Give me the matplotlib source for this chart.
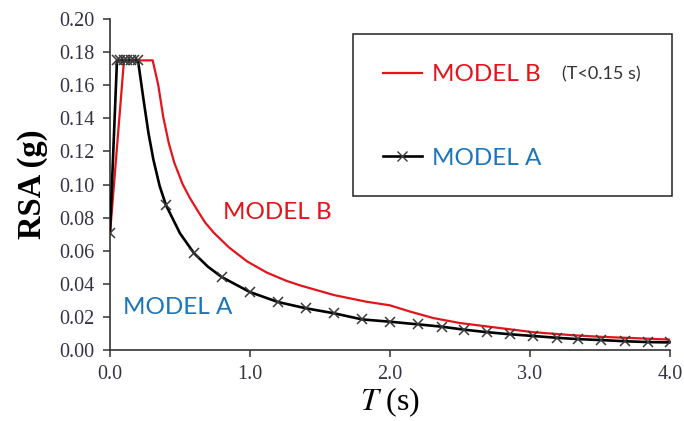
import matplotlib
matplotlib.use("Agg")
import matplotlib.pyplot as plt
from matplotlib.lines import Line2D
from matplotlib.patches import Rectangle

# MODEL A (black, x markers)
t_a = [0.0, 0.05, 0.075, 0.1, 0.125, 0.15, 0.175, 0.2, 0.24, 0.275, 0.31, 0.355, 0.4,
       0.5, 0.6, 0.7, 0.8, 1.0, 1.2, 1.4, 1.6, 1.8, 2.0, 2.2, 2.37, 2.53, 2.69, 2.86,
       3.02, 3.19, 3.34, 3.51, 3.68, 3.84, 4.0]
rsa_a = [0.071, 0.175, 0.175, 0.175, 0.175, 0.175, 0.175, 0.175, 0.151, 0.131, 0.115,
         0.099, 0.0875, 0.0705, 0.0585, 0.0503, 0.044, 0.035, 0.029, 0.0252, 0.0222,
         0.0185, 0.0171, 0.0155, 0.0141, 0.0123, 0.0108, 0.0095, 0.0085, 0.0074,
         0.0066, 0.006, 0.0053, 0.0048, 0.0046]
# points of the black curve that carry no marker
a_unmarked = [0.24, 0.275, 0.31, 0.355, 0.5, 0.7]

# MODEL B (red line)
t_b = [0.0, 0.1, 0.305, 0.345, 0.38, 0.42, 0.46, 0.52, 0.57, 0.62, 0.68, 0.74, 0.85,
       0.98, 1.12, 1.26, 1.36, 1.6, 1.83, 2.0, 2.14, 2.31, 2.5, 2.64, 2.83, 3.02, 3.31,
       3.5, 4.0]
rsa_b = [0.07, 0.175, 0.175, 0.160, 0.141, 0.125, 0.113, 0.100, 0.092, 0.085, 0.077,
         0.071, 0.062, 0.0535, 0.0468, 0.0418, 0.039, 0.0332, 0.0292, 0.027, 0.0233,
         0.0193, 0.0163, 0.0148, 0.0128, 0.0108, 0.0089, 0.008, 0.0063]

x_ticks = [0.0, 1.0, 2.0, 3.0, 4.0]
y_ticks = [0.00, 0.02, 0.04, 0.06, 0.08, 0.10, 0.12, 0.14, 0.16, 0.18, 0.20]

RED = "#e3141b"
BLUE = "#1b75bb"

plt.rcParams["mathtext.fontset"] = "stix"

fig = plt.figure(figsize=(6.84, 4.21), dpi=100)
ax = fig.add_axes([0.1608, 0.1686, 0.8187, 0.7863])

ax.plot(t_b, rsa_b, color=RED, lw=1.6, zorder=2)
marks = [i for i, t in enumerate(t_a) if t not in a_unmarked]
ax.plot(t_a, rsa_a, color="black", lw=1.9, marker="x", markersize=7.5,
        markeredgecolor="#3a3a3a", markeredgewidth=1.1, markevery=marks, zorder=3)

ax.set_xlim(0, 4.0)
ax.set_ylim(0, 0.2)
ax.set_xticks(x_ticks)
ax.set_yticks(y_ticks)
ax.set_xticklabels(["%.1f" % v for v in x_ticks])
ax.set_yticklabels(["%.2f" % v for v in y_ticks])
ax.spines["right"].set_color("none")
ax.spines["top"].set_color("none")
ax.spines["left"].set_linewidth(1.2)
ax.spines["bottom"].set_linewidth(1.2)
ax.spines["left"].set_color("#333333")
ax.spines["bottom"].set_color("#333333")
ax.tick_params(direction="out", length=5, width=1.1, color="#333333",
               labelsize=14.5, labelcolor="#333344", pad=6)
for label in ax.get_xticklabels() + ax.get_yticklabels():
    label.set_family("Liberation Serif")

ax.set_ylabel("RSA (g)", fontsize=23.5, fontweight="bold", family="Liberation Serif",
              labelpad=8)
ax.set_xlabel(r"$\mathit{T}$ (s)", fontsize=23, family="Liberation Serif", labelpad=1)

# labels inside the plot
ax.text(0.81, 0.0828, "MODEL B", color=RED, fontsize=17.5, family="Lato",
        va="center", ha="left")
ax.text(0.093, 0.0254, "MODEL A", color=BLUE, fontsize=17.5, family="Lato",
        va="center", ha="left")

# legend box
ax.add_patch(Rectangle((0.434, 0.465), 0.57, 0.49, transform=ax.transAxes,
                       fill=False, edgecolor="#333333", lw=1.2, clip_on=False))
handles = [Line2D([], [], color=RED, lw=1.6),
           Line2D([], [], color="black", lw=1.9, marker="x", markersize=7.5,
                  markeredgecolor="#3a3a3a")]
ax.legend(handles, ["MODEL B", "MODEL A"], loc="upper left",
          bbox_to_anchor=(0.4875, 0.864), frameon=False, handlelength=1.6,
          handletextpad=0.41, labelspacing=2.58, borderpad=0, borderaxespad=0,
          labelcolor=[RED, BLUE], prop={"family": "Lato", "size": 17.5})
ax.text(0.807, 0.834, "(T<0.15 s)", transform=ax.transAxes, fontsize=13,
        family="Lato", color="#333333", va="center", ha="left")

fig.savefig("out.png", dpi=100)
